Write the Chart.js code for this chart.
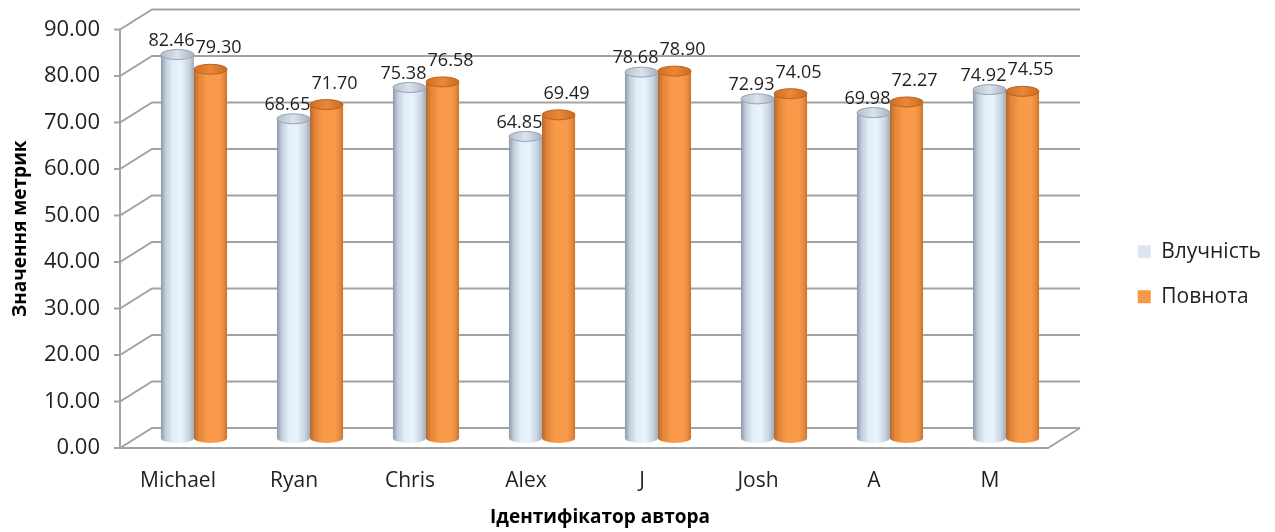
<!DOCTYPE html>
<html>
<head>
<meta charset="utf-8">
<script src="https://cdn.jsdelivr.net/npm/chart.js@4.4.1/dist/chart.umd.min.js"></script>
<style>
  html, body { margin: 0; padding: 0; background: #fff; }
  canvas { display: block; }
</style>
</head>
<body>
<canvas id="graficaMetricas" width="1275" height="532"></canvas>
<script>
// datos
const categories = ['Michael', 'Ryan', 'Chris', 'Alex', 'J', 'Josh', 'A', 'M'];
const seriesNames = ['Влучність', 'Повнота'];
const precisionValues = [82.46, 68.65, 75.38, 64.85, 78.68, 72.93, 69.98, 74.92];
const recallValues = [79.30, 71.70, 76.58, 69.49, 78.90, 74.05, 72.27, 74.55];
const yTickValues = [0, 10, 20, 30, 40, 50, 60, 70, 80, 90];
const yTitle = 'Значення метрик';
const xTitle = 'Ідентифікатор автора';

// estilo
const fontFamily = "'Open Sans', 'DejaVu Sans', sans-serif";
const textColor = '#1f1f1f';
const depthX = 16, depthY = 10;   // desplazamiento falso 3D
const catPercent = 0.57;
const legendColors = ['#dce6f2', '#f79646'];
const bodyStops = [
    [[0, '#8e9aa9'], [0.15, '#c3cfdc'], [0.35, '#e2edf9'], [0.6, '#e9f3fe'], [0.85, '#c9d4e0'], [1, '#a0acba']],
    [[0, '#b9682a'], [0.15, '#e3853a'], [0.4, '#f99a4a'], [0.75, '#f9994a'], [0.9, '#e88a3e'], [1, '#c8712f']]
];
const capStops = [
    [[0, '#b3bfcc'], [0.5, '#dbe3ec'], [1, '#a7b3c2']],
    [[0, '#cf7027'], [0.5, '#ea8838'], [1, '#c86b22']]
];
const capStroke = ['#95a3b4', '#bb621e'];
const labelShift = [[-6, 14], [8, 21]];

function makeGradient(ctx, x0, x1, stops) {
    const g = ctx.createLinearGradient(x0, 0, x1, 0);
    stops.forEach(s => g.addColorStop(s[0], s[1]));
    return g;
}

// relleno tipo cilindro, calculado desde la escala x
function cylinderFill(c) {
    const chart = c.chart;
    const xs = chart.scales.x;
    const stops = bodyStops[c.datasetIndex];
    if (!chart.chartArea || !xs || c.dataIndex === undefined) return legendColors[c.datasetIndex];
    const center = xs.getPixelForValue(c.dataIndex);
    const w = xs.width / categories.length * catPercent / 2;
    const x0 = center + (c.datasetIndex === 0 ? -w : 0);
    return makeGradient(chart.ctx, x0, x0 + w, stops);
}

const marco3d = {
    id: 'marco3d',
    beforeDatasetsDraw(chart) {
        const { ctx, chartArea: a, scales: { y } } = chart;
        ctx.save();
        ctx.strokeStyle = '#a3a3a3';
        ctx.lineWidth = 2;
        ctx.beginPath();
        yTickValues.forEach(v => {
            const py = y.getPixelForValue(v);
            ctx.moveTo(a.left - depthX - 6, py + depthY);
            ctx.lineTo(a.left - depthX, py + depthY);
            ctx.lineTo(a.left + depthX, py - depthY);
            ctx.lineTo(a.right + depthX, py - depthY);
        });
        const y0 = y.getPixelForValue(yTickValues[0]);
        const yTop = y.getPixelForValue(yTickValues[yTickValues.length - 1]);
        ctx.moveTo(a.left - depthX, yTop + depthY);
        ctx.lineTo(a.left - depthX, y0 + depthY);
        ctx.lineTo(a.right - depthX, y0 + depthY);
        ctx.lineTo(a.right + depthX, y0 - depthY);
        ctx.stroke();
        ctx.restore();
    },
    afterDatasetsDraw(chart) {
        const ctx = chart.ctx;
        ctx.save();
        chart.data.datasets.forEach((ds, di) => {
            const meta = chart.getDatasetMeta(di);
            meta.data.forEach(bar => {
                const rx = bar.width / 2;
                // fondo redondeado
                ctx.beginPath();
                ctx.ellipse(bar.x, bar.base, rx, 5, 0, 0, Math.PI);
                ctx.fillStyle = makeGradient(ctx, bar.x - rx, bar.x + rx, bodyStops[di]);
                ctx.fill();
                // tapa superior
                ctx.beginPath();
                ctx.ellipse(bar.x, bar.y, rx, 5, 0, 0, Math.PI * 2);
                ctx.fillStyle = makeGradient(ctx, bar.x - rx, bar.x + rx, capStops[di]);
                ctx.fill();
                ctx.lineWidth = 1;
                ctx.strokeStyle = capStroke[di];
                ctx.stroke();
            });
        });
        // etiquetas de valores
        ctx.font = '18px ' + fontFamily;
        ctx.fillStyle = textColor;
        ctx.textAlign = 'center';
        ctx.textBaseline = 'middle';
        chart.data.datasets.forEach((ds, di) => {
            const meta = chart.getDatasetMeta(di);
            meta.data.forEach((bar, i) => {
                ctx.fillText(ds.data[i].toFixed(2), bar.x + labelShift[di][0], bar.y - labelShift[di][1]);
            });
        });
        ctx.restore();
    }
};

document.addEventListener('DOMContentLoaded', function () {
    const ctx = document.getElementById('graficaMetricas');
    new Chart(ctx, {
        type: 'bar',
        data: {
            labels: categories,
            datasets: [{
                label: seriesNames[0],
                data: precisionValues,
                backgroundColor: cylinderFill,
                borderWidth: 0
            }, {
                label: seriesNames[1],
                data: recallValues,
                backgroundColor: cylinderFill,
                borderWidth: 0
            }]
        },
        options: {
            responsive: false,
            animation: false,
            devicePixelRatio: 1,
            categoryPercentage: catPercent,
            barPercentage: 1.0,
            layout: {
                padding: { top: 19.5, right: 4, bottom: 3, left: 0 }
            },
            scales: {
                x: {
                    grid: { display: false, drawTicks: false },
                    border: { display: false },
                    ticks: {
                        color: textColor,
                        font: { family: fontFamily, size: 21 },
                        padding: 30,
                        labelOffset: -depthX,
                        maxRotation: 0,
                        autoSkip: false
                    },
                    title: {
                        display: true,
                        text: xTitle,
                        color: '#000',
                        font: { family: fontFamily, size: 19, weight: 'bold' },
                        padding: { top: 0, bottom: 0 }
                    },
                    afterFit: function (scale) {
                        scale.height = 91;
                        scale.paddingLeft = 0; scale.paddingRight = 0;
                        scale.paddingTop = 0; scale.paddingBottom = 0;
                    }
                },
                y: {
                    min: 0,
                    max: 90,
                    grid: { display: false, drawTicks: false },
                    border: { display: false },
                    afterBuildTicks: function (scale) {
                        scale.ticks = yTickValues.map(v => ({ value: v }));
                    },
                    ticks: {
                        color: textColor,
                        font: { family: fontFamily, size: 22 },
                        padding: 36,
                        labelOffset: depthY,
                        callback: v => Number(v).toFixed(2)
                    },
                    title: {
                        display: true,
                        text: yTitle,
                        color: '#000',
                        font: { family: fontFamily, size: 19, weight: 'bold' },
                        padding: { top: 9, bottom: 0 }
                    },
                    afterFit: function (scale) {
                        scale.width = 136;
                        scale.paddingTop = 0; scale.paddingBottom = 0;
                        scale.paddingLeft = 0; scale.paddingRight = 0;
                    }
                },
                // eje vacio para separar la leyenda del area del grafico
                hueco: {
                    type: 'linear',
                    position: 'right',
                    grid: { display: false },
                    border: { display: false },
                    ticks: { display: false },
                    afterFit: function (scale) {
                        scale.width = 1275 - 4 - 1064 - scale.chart.legend.width;
                        scale.paddingTop = 0; scale.paddingBottom = 0;
                    }
                }
            },
            plugins: {
                legend: {
                    position: 'right',
                    labels: {
                        color: textColor,
                        font: { family: fontFamily, size: 21 },
                        boxWidth: 13,
                        boxHeight: 13,
                        padding: 24,
                        generateLabels: function (chart) {
                            const items = Chart.defaults.plugins.legend.labels.generateLabels(chart);
                            items.forEach((it, i) => {
                                it.fillStyle = legendColors[i];
                                it.strokeStyle = legendColors[i];
                                it.lineWidth = 0;
                            });
                            return items;
                        }
                    }
                },
                tooltip: { enabled: false }
            }
        },
        plugins: [marco3d]
    });
});
</script>
</body>
</html>
